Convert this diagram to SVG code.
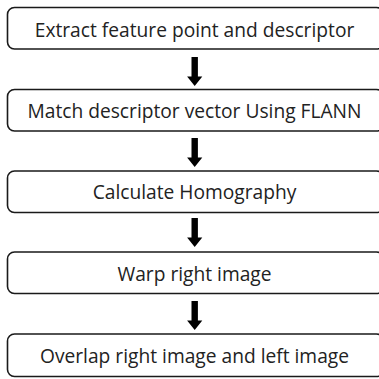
<svg xmlns="http://www.w3.org/2000/svg" width="379" height="379" viewBox="0 0 379 379">
  <style>
    .box { fill: #ffffff; stroke: #1a1a1a; stroke-width: 1.6; }
    .label { font-family: "Open Sans", "Noto Sans", "Liberation Sans", sans-serif; font-size: 19.2px; fill: #222222; text-anchor: middle; }
    .arrow { fill: #000000; }
  </style>
  <defs>
    <!-- block arrow pointing down, tip at origin -->
    <path id="down" d="M -3.2 -29 H 3.2 V -9.5 H 7.6 L 0 0 L -7.6 -9.5 H -3.2 Z"/>
  </defs>
  <rect width="379" height="379" fill="#ffffff"/>

  <g id="step1">
    <rect class="box" x="7.5" y="7.5" width="376" height="41.5" rx="7"/>
    <text class="label" x="194.5" y="36.5">Extract feature point and descriptor</text>
  </g>
  <g id="step2">
    <rect class="box" x="7.5" y="89.5" width="376" height="41.5" rx="7"/>
    <text class="label" x="194.5" y="118">Match descriptor vector Using FLANN</text>
  </g>
  <g id="step3">
    <rect class="box" x="7.5" y="171" width="376" height="41.5" rx="7"/>
    <text class="label" x="194.5" y="199">Calculate Homography</text>
  </g>
  <g id="step4">
    <rect class="box" x="7.5" y="252" width="376" height="41.5" rx="7"/>
    <text class="label" x="194.5" y="281">Warp right image</text>
  </g>
  <g id="step5">
    <rect class="box" x="7.5" y="334" width="376" height="42.5" rx="7"/>
    <text class="label" x="194.5" y="363">Overlap right image and left image</text>
  </g>

  <g id="connectors" class="arrow">
    <use href="#down" x="194.7" y="86"/>
    <use href="#down" x="194.7" y="167"/>
    <use href="#down" x="194.7" y="247"/>
    <use href="#down" x="194.7" y="330"/>
  </g>
</svg>
